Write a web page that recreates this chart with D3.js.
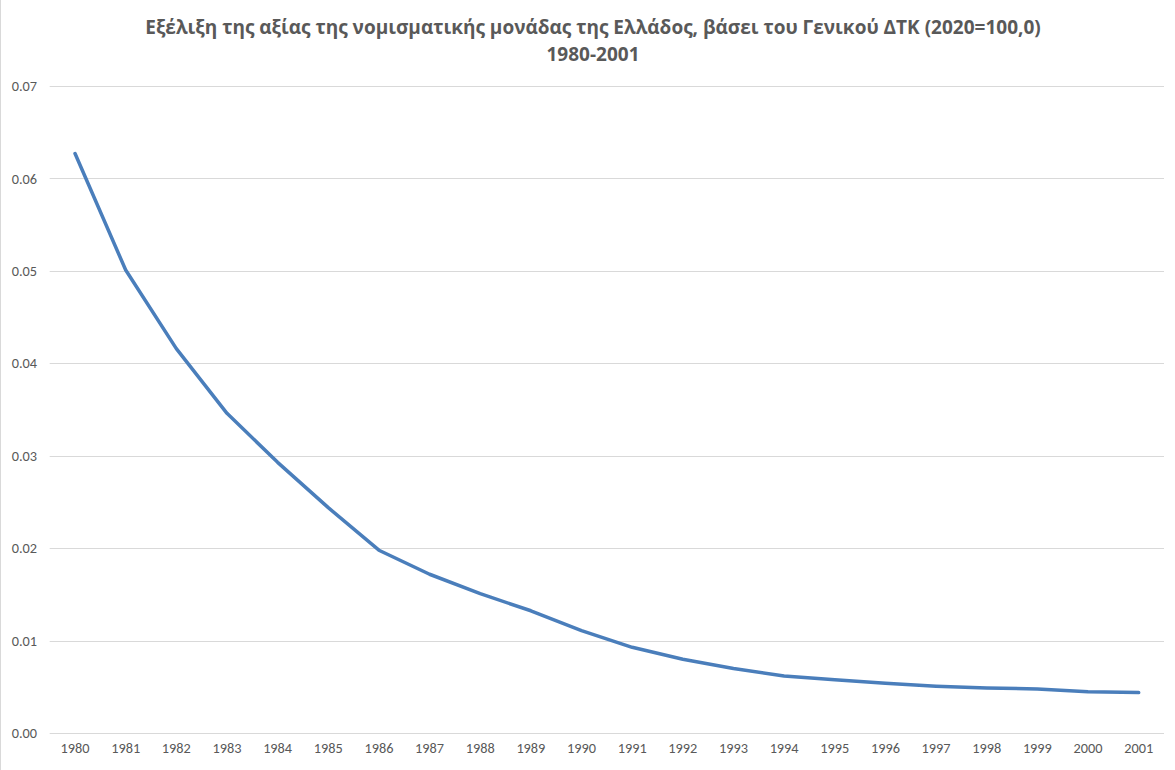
<!DOCTYPE html>
<html>
<head>
<meta charset="utf-8">
<script src="https://cdn.jsdelivr.net/npm/d3@7"></script>
<style>
  html, body { margin: 0; padding: 0; background: #fff; }
  svg { display: block; }
</style>
</head>
<body>
<svg id="chart" width="1175" height="770"></svg>
<script>
const years = ["1980","1981","1982","1983","1984","1985","1986","1987","1988","1989","1990",
               "1991","1992","1993","1994","1995","1996","1997","1998","1999","2000","2001"];
const values = [0.0627, 0.0501, 0.0416, 0.0346, 0.0293, 0.0244, 0.0198, 0.0172, 0.0151, 0.01325, 0.0111,
                0.0093, 0.0080, 0.0070, 0.0062, 0.0058, 0.0054, 0.0051, 0.0049, 0.0048, 0.0045, 0.0044];
const yTicks = [0, 0.01, 0.02, 0.03, 0.04, 0.05, 0.06, 0.07];
const titleLines = ["Εξέλιξη της αξίας της νομισματικής μονάδας της Ελλάδος, βάσει του Γενικού ΔΤΚ (2020=100,0)", "1980-2001"];

const svg = d3.select("#chart");
const W = 1175, H = 770;
const mLeft = 49.7, mRight = 1164, mTop = 86, mBottom = 733.3;

// left border
svg.append("line").attr("x1", 0.5).attr("x2", 0.5).attr("y1", 0).attr("y2", H)
  .attr("stroke", "#d9d9d9").attr("stroke-width", 1);

const x = d3.scaleBand().domain(years).range([mLeft, mRight]).paddingInner(0).paddingOuter(0);
const y = d3.scaleLinear().domain([0, 0.07]).range([mBottom, mTop]);

// gridlines
svg.append("g").selectAll("line").data(yTicks).join("line")
  .attr("x1", mLeft).attr("x2", mRight)
  .attr("y1", d => Math.round(y(d)) + 0.5).attr("y2", d => Math.round(y(d)) + 0.5)
  .attr("stroke", "#d9d9d9").attr("stroke-width", 1);

const labelFont = "Calibri, Carlito, 'Open Sans', sans-serif";

// y axis labels
const yAxis = d3.axisLeft(y).tickValues(yTicks).tickFormat(d3.format(".2f")).tickSize(0).tickPadding(0);
const gy = svg.append("g").attr("transform", `translate(37,0)`).call(yAxis);
gy.select(".domain").remove();
gy.selectAll("text").attr("fill", "#595959").style("font-family", labelFont).style("font-size", "14.3px");

// x axis labels
const xAxis = d3.axisBottom(x).tickSize(0).tickPadding(0);
const gx = svg.append("g").attr("transform", `translate(0,${mBottom + 10})`).call(xAxis);
gx.select(".domain").remove();
gx.selectAll("text").attr("fill", "#595959").style("font-family", labelFont).style("font-size", "14.3px");

// line
const line = d3.line().x((d, i) => x(years[i]) + x.bandwidth() / 2).y(d => y(d));
svg.append("path").datum(values)
  .attr("d", line)
  .attr("fill", "none")
  .attr("stroke", "#4a7ebb")
  .attr("stroke-width", 3.5)
  .attr("stroke-linecap", "round")
  .attr("stroke-linejoin", "round");

// title
const t = svg.append("text").attr("text-anchor", "middle")
  .attr("fill", "#595959")
  .style("font-family", "'Liberation Sans Narrow', 'Open Sans', sans-serif")
  .style("font-weight", "bold")
  .style("font-size", "19px");
t.append("tspan").attr("x", 593).attr("y", 34).text(titleLines[0]);
t.append("tspan").attr("x", 593).attr("y", 61).text(titleLines[1]);
</script>
</body>
</html>
